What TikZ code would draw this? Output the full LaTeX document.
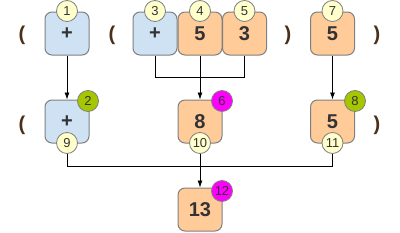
\documentclass[tikz,border=0pt]{standalone}
\usepackage{fontspec}
\setmainfont{Liberation Sans}
\usetikzlibrary{arrows.meta}
\definecolor{opblue}{HTML}{CFE2F3}
\definecolor{valorange}{HTML}{FFCC99}
\definecolor{tagyellow}{HTML}{FFFFCC}
\definecolor{tagdone}{HTML}{A6C600}
\definecolor{tagnew}{HTML}{FF00FF}
\definecolor{parencol}{HTML}{4A3018}
\definecolor{edgegray}{HTML}{808080}

\begin{document}
\begin{tikzpicture}[x=1pt,y=-1pt,
    cell/.style={draw=edgegray, line width=1pt, rounded corners=7pt,
        minimum width=44pt, minimum height=43pt, inner sep=0pt,
        font=\fontsize{20}{20}\selectfont\bfseries, text=black!80},
    opcell/.style={cell, fill=opblue},
    valcell/.style={cell, fill=valorange},
    tag/.style={circle, draw=edgegray, line width=0.8pt, minimum size=21pt,
        inner sep=0pt, font=\fontsize{13}{13}\selectfont, text=black!80},
    paren/.style={font=\fontsize{20}{20}\selectfont\bfseries, text=parencol},
    link/.style={line width=0.8pt},
    flow/.style={link, -{Latex[length=7pt,width=5pt]}}
]
\useasboundingbox (0,0) rectangle (400,233);

% top row
\node[paren] at (22,35) {(};
\node[paren] at (112,35) {(};
\node[paren] at (288,35) {)};
\node[paren] at (377,35) {)};

\node[opcell] (n1) at (67,33.5) {+};
\node[opcell] (n3) at (155,33.5) {+};
\node[valcell] (n4) at (200,33.5) {5};
\node[valcell] (n5) at (244.5,33.5) {3};
\node[valcell] (n7) at (332.5,33.5) {5};

\node[tag, fill=tagyellow] (t1) at (67,11) {1};
\node[tag, fill=tagyellow] (t3) at (155,11) {3};
\node[tag, fill=tagyellow] (t4) at (200,11) {4};
\node[tag, fill=tagyellow] (t5) at (244.5,11) {5};
\node[tag, fill=tagyellow] (t7) at (332.5,11) {7};

% middle row
\node[paren] at (22,125) {(};
\node[paren] at (377,125) {)};

\node[opcell] (n2) at (67,121.5) {+};
\node[valcell] (n6) at (200,121.5) {8};
\node[valcell] (n8) at (332.5,121.5) {5};

\node[tag, fill=tagdone] (t2) at (88,101) {2};
\node[tag, fill=tagnew] (t6) at (222,101) {6};
\node[tag, fill=tagdone] (t8) at (355,101) {8};
\node[tag, fill=tagyellow] (t9) at (67,143) {9};
\node[tag, fill=tagyellow] (t10) at (200,143) {10};
\node[tag, fill=tagyellow] (t11) at (332.5,143) {11};

% bottom row
\node[valcell] (n12) at (200,209.5) {13};
\node[tag, fill=tagnew] (t12) at (222,191) {12};

% connectors
\draw[flow] (n1.south) -- (n2.north);
\draw[link] (n3.south) -- ++(0,22) -| (n5.south);
\draw[flow] (n4.south) -- (n6.north);
\draw[flow] (n7.south) -- (n8.north);
\draw[link] (t9.south) -- ++(0,12) -| (t11.south);
\draw[flow] (t10.south) -- (n12.north);
\end{tikzpicture}
\end{document}
